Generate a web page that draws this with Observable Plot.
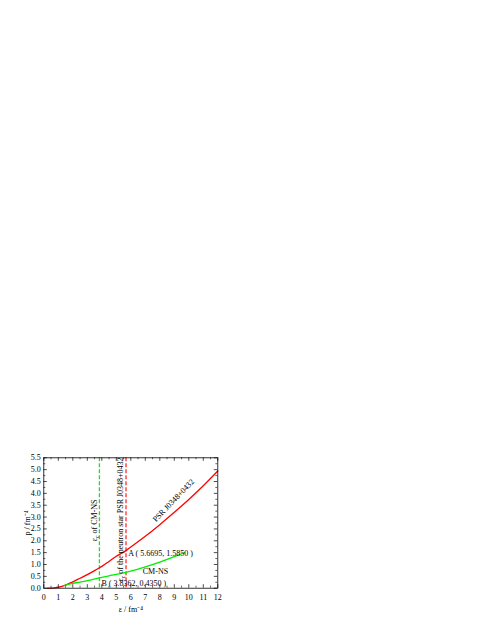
<!DOCTYPE html>
<html><head><meta charset="utf-8">
<script src="https://cdn.jsdelivr.net/npm/d3@7"></script>
<script src="https://cdn.jsdelivr.net/npm/@observablehq/plot@0.6"></script>
<style>body{margin:0;background:#fff}</style>
</head><body><div id="chart"></div>
<script>
// PSR J0348+0432 EOS: energy density ε vs pressure p
const psrEps = [0.25, 0.5, 0.75, 1, 1.25, 1.5, 2, 2.5, 3, 3.5, 3.8362, 4, 4.5, 5, 5.6695, 6, 7, 8, 9, 10, 11, 12];
const psrP   = [0, 0.005, 0.015, 0.04, 0.08, 0.13, 0.27, 0.42, 0.57, 0.74, 0.86, 0.92, 1.13, 1.35, 1.585, 1.74, 2.19, 2.68, 3.2, 3.74, 4.32, 4.94];
// CM-NS EOS
const cmEps = [1.4, 2, 2.5, 3, 3.8362, 4.5, 5, 5.6695, 6, 7, 8, 9, 9.7];
const cmP   = [0.11, 0.2, 0.26, 0.32, 0.435, 0.52, 0.58, 0.67, 0.72, 0.9, 1.1, 1.33, 1.5];
// critical energy densities
const epsCritCM = 3.8362;
const epsCritPSR = 5.6695;
// ticks
const xMajor = d3.range(0, 13, 1);
const xMinor = d3.range(0.5, 12, 1);
const yMajor = d3.range(0, 5.51, 0.5).map(v => +v.toFixed(2));
const yMinor = d3.range(0.25, 5.5, 0.5).map(v => +v.toFixed(2));
// annotations
const labelsCenter = [
  {x: 3.5, y: 2.86, text: "εc of CM-NS", rotate: -90},
  {x: 5.3, y: 2.9, text: "εc of the neutron star PSR J0348+0432", rotate: -90},
  {x: 8.94, y: 3.7, text: "PSR J0348+0432", rotate: -46},
  {x: 7.7, y: 0.72, text: "CM-NS", rotate: 0}
];
const labelsStart = [
  {x: 5.82, y: 1.45, text: "A ( 5.6695, 1.5850 )"},
  {x: 3.98, y: 0.21, text: "B ( 3.8362, 0.4350 )"}
];

const psr = psrEps.map((e, i) => ({e, p: psrP[i]}));
const cm = cmEps.map((e, i) => ({e, p: cmP[i]}));

const W = 485, H = 627;
const mL = 43.3, mR = 267.7, mT = 457.3, mB = 39.3;
const innerW = W - mL - mR, innerH = H - mT - mB;

const chart = Plot.plot({
  width: W, height: H,
  marginLeft: mL, marginRight: mR, marginTop: mT, marginBottom: mB,
  style: {fontFamily: "'Liberation Serif', 'Times New Roman', serif", fontSize: "8px", background: "#fff", color: "#000"},
  x: {domain: [0, 12]},
  y: {domain: [0, 5.5]},
  marks: [
    Plot.ruleX([epsCritCM], {stroke: "#22dd22", strokeWidth: 1.3, strokeDasharray: "4,2"}),
    Plot.ruleX([epsCritPSR], {stroke: "#ff3b3b", strokeWidth: 1.4, strokeDasharray: "4,2"}),
    Plot.line(psr, {x: "e", y: "p", stroke: "#ff0000", strokeWidth: 1.3, curve: "monotone-x"}),
    Plot.line(cm, {x: "e", y: "p", stroke: "#00ee00", strokeWidth: 1.3, curve: "monotone-x"}),
    Plot.frame({stroke: "#000", strokeWidth: 0.8}),
    // inward ticks, all four sides
    Plot.ruleX(xMajor, {x: d => d, insetTop: innerH - 3.5, stroke: "#000", strokeWidth: 0.7}),
    Plot.ruleX(xMajor, {x: d => d, insetBottom: innerH - 3.5, stroke: "#000", strokeWidth: 0.7}),
    Plot.ruleX(xMinor, {x: d => d, insetTop: innerH - 2, stroke: "#000", strokeWidth: 0.6}),
    Plot.ruleX(xMinor, {x: d => d, insetBottom: innerH - 2, stroke: "#000", strokeWidth: 0.6}),
    Plot.ruleY(yMajor, {y: d => d, insetRight: innerW - 3.5, stroke: "#000", strokeWidth: 0.7}),
    Plot.ruleY(yMajor, {y: d => d, insetLeft: innerW - 3.5, stroke: "#000", strokeWidth: 0.7}),
    Plot.ruleY(yMinor, {y: d => d, insetRight: innerW - 2, stroke: "#000", strokeWidth: 0.6}),
    Plot.ruleY(yMinor, {y: d => d, insetLeft: innerW - 2, stroke: "#000", strokeWidth: 0.6}),
    Plot.axisX({ticks: xMajor, tickSize: 0, tickPadding: 6, tickFormat: d3.format("d"),
      label: "ε / fm⁻⁴", labelAnchor: "center", labelOffset: 24, labelArrow: "none"}),
    Plot.axisY({ticks: yMajor, tickSize: 0, tickPadding: 3, tickFormat: d3.format(".1f"),
      label: "p / fm⁻⁴", labelAnchor: "center", labelOffset: 19, labelArrow: "none"}),
    Plot.text(labelsCenter, {x: "x", y: "y", text: "text", rotate: "rotate", fill: "#000", fontSize: 8}),
    Plot.text(labelsStart, {x: "x", y: "y", text: "text", textAnchor: "start", fill: "#000", fontSize: 8})
  ]
});
document.getElementById("chart").appendChild(chart);
// subscript c in "εc"
chart.querySelectorAll("text").forEach(t => {
  if (t.children.length === 0 && t.textContent.startsWith("εc")) {
    const rest = t.textContent.slice(2);
    t.textContent = "";
    const ns = "http://www.w3.org/2000/svg";
    const a = document.createElementNS(ns, "tspan"); a.textContent = "ε";
    const b = document.createElementNS(ns, "tspan"); b.textContent = "c"; b.setAttribute("font-size", "5.5"); b.setAttribute("dy", "2");
    const c = document.createElementNS(ns, "tspan"); c.textContent = rest; c.setAttribute("dy", "-2");
    t.append(a, b, c);
  }
});
</script></body></html>
